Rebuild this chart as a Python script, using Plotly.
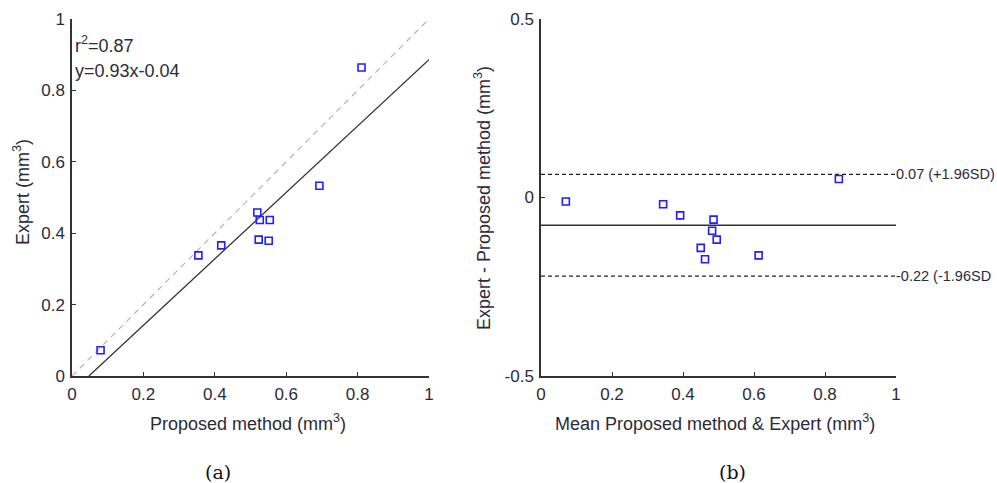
import plotly.graph_objects as go

# ---- data ----
proposed = [0.080, 0.354, 0.418, 0.519, 0.526, 0.554, 0.523, 0.551, 0.693, 0.811]
expert = [0.072, 0.338, 0.366, 0.458, 0.437, 0.437, 0.382, 0.379, 0.533, 0.864]

fit_slope = 0.93
fit_intercept = -0.044
fit_r2 = 0.87

ba_mean = [0.070, 0.344, 0.392, 0.486, 0.482, 0.495, 0.450, 0.462, 0.613, 0.839]
ba_diff = [-0.011, -0.019, -0.050, -0.062, -0.093, -0.118, -0.141, -0.173, -0.162, 0.052]
ba_bias = -0.078
ba_limits = [0.065, -0.22]
ba_limit_labels = ["0.07 (+1.96SD)", "-0.22 (-1.96SD"]

x_ticks = [0, 0.2, 0.4, 0.6, 0.8, 1]
x_tick_labels = ["0", "0.2", "0.4", "0.6", "0.8", "1"]
y1_ticks = [0, 0.2, 0.4, 0.6, 0.8, 1]
y1_tick_labels = ["0", "0.2", "0.4", "0.6", "0.8", "1"]
y2_ticks = [-0.5, 0, 0.5]
y2_tick_labels = ["-0.5", "0", "0.5"]

# ---- styling ----
W, H = 997, 483
FONT = "Arial, Liberation Sans, sans-serif"
TXT = "#2b2b3a"
AX = "#333333"
BLUE = "#1f1fff"


def px(x):
    return x / W


def py(y):
    return 1 - y / H


fig = go.Figure()

# panel (a)
fit_x = [-fit_intercept / fit_slope, 1.0]
fit_y = [fit_slope * v + fit_intercept for v in fit_x]
fig.add_trace(go.Scatter(x=[0, 1], y=[0, 1], mode="lines",
                         line=dict(color="#b4b4b4", width=1.2, dash="6px,5px"),
                         xaxis="x", yaxis="y", hoverinfo="skip"))
fig.add_trace(go.Scatter(x=fit_x, y=fit_y, mode="lines",
                         line=dict(color="#333333", width=1.3),
                         xaxis="x", yaxis="y", hoverinfo="skip"))
fig.add_trace(go.Scatter(x=proposed, y=expert, mode="markers",
                         marker=dict(symbol="square-open", size=7, color=BLUE,
                                     line=dict(width=1.6, color=BLUE)),
                         xaxis="x", yaxis="y"))

# panel (b)
for lim in ba_limits:
    fig.add_trace(go.Scatter(x=[0, 1], y=[lim, lim], mode="lines",
                             line=dict(color="#222222", width=1.3, dash="4px,3px"),
                             xaxis="x2", yaxis="y2", hoverinfo="skip"))
fig.add_trace(go.Scatter(x=[0, 1], y=[ba_bias, ba_bias], mode="lines",
                         line=dict(color="#333333", width=1.5),
                         xaxis="x2", yaxis="y2", hoverinfo="skip"))
fig.add_trace(go.Scatter(x=ba_mean, y=ba_diff, mode="markers",
                         marker=dict(symbol="square-open", size=7, color=BLUE,
                                     line=dict(width=1.6, color=BLUE)),
                         xaxis="x2", yaxis="y2"))

axis_common = dict(showline=True, linecolor=AX, linewidth=1.5, ticks="inside",
                   ticklen=4, tickwidth=1.3, tickcolor=AX, showgrid=False,
                   zeroline=False, mirror=False, fixedrange=True, automargin=False,
                   tickfont=dict(family=FONT, size=17, color=TXT))

y_top, y_bot = 19, 376
fig.update_layout(
    width=W, height=H,
    margin=dict(l=0, r=0, t=0, b=0),
    paper_bgcolor="white", plot_bgcolor="white",
    showlegend=False,
    xaxis=dict(domain=[px(72), px(429)], range=[0, 1], tickvals=x_ticks,
               ticktext=x_tick_labels, anchor="y", ticklabelstandoff=2, **axis_common),
    yaxis=dict(domain=[py(y_bot), py(y_top)], range=[0, 1], tickvals=y1_ticks,
               ticktext=y1_tick_labels, anchor="x", ticklabelstandoff=2, **axis_common),
    xaxis2=dict(domain=[px(541), px(896)], range=[0, 1], tickvals=x_ticks,
                ticktext=x_tick_labels, anchor="y2", ticklabelstandoff=2, **axis_common),
    yaxis2=dict(domain=[py(y_bot), py(y_top)], range=[-0.5, 0.5], tickvals=y2_ticks,
                ticktext=y2_tick_labels, anchor="x2", ticklabelstandoff=2, **axis_common),
)

ann_font = dict(family=FONT, size=18, color=TXT)
annotations = [
    dict(text="Proposed method (mm<sup>3</sup>)", x=px(248), y=py(422)),
    dict(text="Expert (mm<sup>3</sup>)", x=px(21), y=py(192), textangle=-90),
    dict(text="Mean Proposed method &amp; Expert (mm<sup>3</sup>)", x=px(715), y=py(422)),
    dict(text="Expert - Proposed method (mm<sup>3</sup>)", x=px(482), y=py(198), textangle=-90),
]
for a in annotations:
    fig.add_annotation(xref="paper", yref="paper", showarrow=False,
                       xanchor="center", yanchor="middle", font=ann_font, **a)

fig.add_annotation(xref="paper", yref="paper", x=px(73), y=py(45),
                   text=f"r<sup>2</sup>={fit_r2:.2f}", showarrow=False,
                   xanchor="left", yanchor="middle", font=ann_font)
fig.add_annotation(xref="paper", yref="paper", x=px(73), y=py(71),
                   text=f"y={fit_slope:.2f}x{fit_intercept:+.2f}", showarrow=False,
                   xanchor="left", yanchor="middle", font=ann_font)

for lim, lab in zip(ba_limits, ba_limit_labels):
    fig.add_annotation(xref="x2", yref="y2", x=1, y=lim, text=lab, showarrow=False,
                       xanchor="left", yanchor="middle", xshift=-2,
                       font=dict(family=FONT, size=14.5, color=TXT))

cap_font = dict(family="DejaVu Serif, Liberation Serif, serif", size=19, color="#111111")
fig.add_annotation(xref="paper", yref="paper", x=px(218), y=py(472), text="(a)",
                   showarrow=False, xanchor="center", yanchor="middle", font=cap_font)
fig.add_annotation(xref="paper", yref="paper", x=px(732), y=py(472), text="(b)",
                   showarrow=False, xanchor="center", yanchor="middle", font=cap_font)

fig.write_html("out.html", config=dict(displayModeBar=False),
               post_script="document.body.style.margin='0';document.body.style.overflow='hidden';")
